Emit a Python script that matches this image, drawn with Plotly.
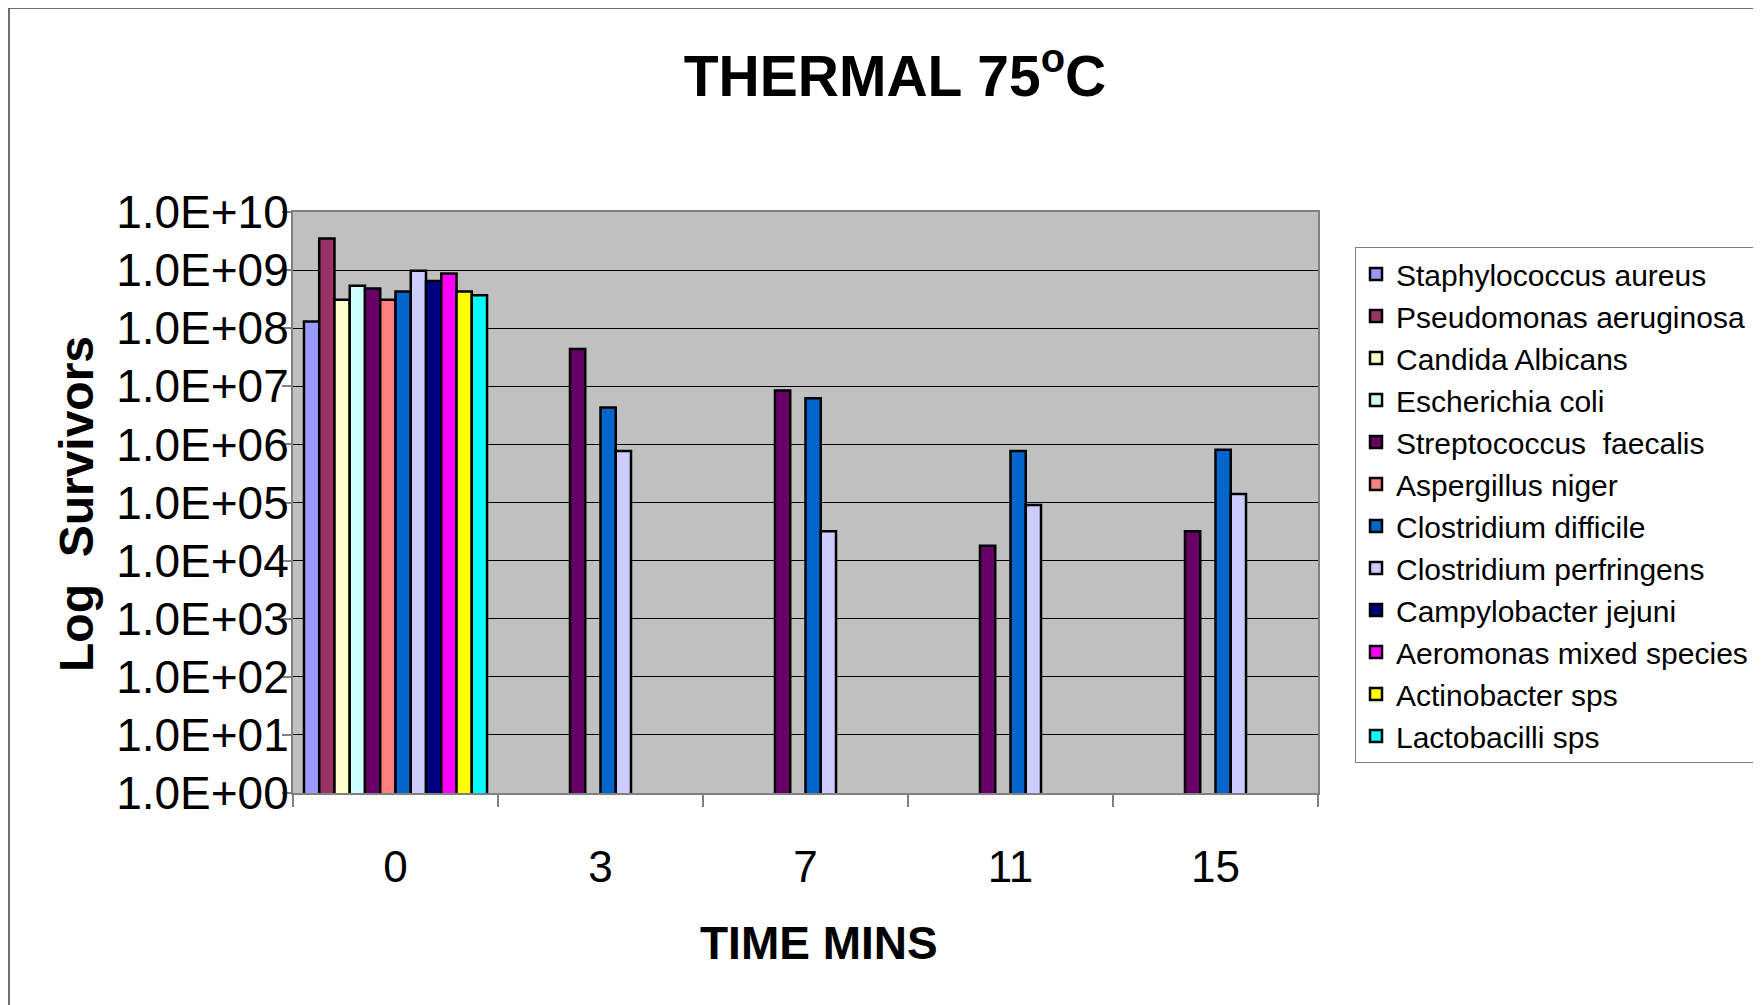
import plotly.graph_objects as go

times = ["0", "3", "7", "11", "15"]
species = [
    "Staphylococcus aureus", "Pseudomonas aeruginosa", "Candida Albicans",
    "Escherichia coli", "Streptococcus  faecalis", "Aspergillus niger",
    "Clostridium difficile", "Clostridium perfringens", "Campylobacter jejuni",
    "Aeromonas mixed species", "Actinobacter sps", "Lactobacilli sps",
]
colors = ["#9999FF", "#993366", "#FFFFCC", "#CCFFFF", "#660066", "#FF8080",
          "#0066CC", "#CCCCFF", "#000080", "#FF00FF", "#FFFF00", "#00FFFF"]

staph = [1.3e8, None, None, None, None]
pseudo = [3.5e9, None, None, None, None]
candida = [3.1e8, None, None, None, None]
ecoli = [5.4e8, None, None, None, None]
strep = [4.8e8, 4.4e7, 8.5e6, 1.8e4, 3.2e4]
asper = [3.1e8, None, None, None, None]
cdiff = [4.3e8, 4.3e6, 6.2e6, 7.7e5, 8.1e5]
cperf = [9.7e8, 7.7e5, 3.2e4, 9.1e4, 1.4e5]
campy = [6.5e8, None, None, None, None]
aero = [8.7e8, None, None, None, None]
actino = [4.3e8, None, None, None, None]
lacto = [3.7e8, None, None, None, None]
series = [staph, pseudo, candida, ecoli, strep, asper, cdiff, cperf, campy, aero, actino, lacto]

ytickvals = [1e0, 1e1, 1e2, 1e3, 1e4, 1e5, 1e6, 1e7, 1e8, 1e9, 1e10]
yticktext = ["1.0E+00", "1.0E+01", "1.0E+02", "1.0E+03", "1.0E+04", "1.0E+05",
             "1.0E+06", "1.0E+07", "1.0E+08", "1.0E+09", "1.0E+10"]

FONT = "Liberation Sans, Arial, sans-serif"

fig = go.Figure()
for name, vals, col in zip(species, series, colors):
    fig.add_trace(go.Bar(
        x=times, y=vals, name=name,
        marker=dict(color=col, line=dict(color="black", width=2.5)),
    ))

W, H = 1761, 1005
OFF = 8  # page body offset
L, R, T, B = 293 - OFF, 1318 - OFF, 212 - OFF, 793 - OFF
pw, ph = R - L, B - T

fig.update_layout(
    width=W, height=H,
    margin=dict(l=L, r=W - R, t=T, b=H - B, pad=0),
    paper_bgcolor="white",
    plot_bgcolor="#C0C0C0",
    barmode="group", bargap=0.107, bargroupgap=0,
    font=dict(family=FONT, color="black"),
    title=dict(text="<b>THERMAL 75<sup>o</sup>C</b>", x=(895 - OFF) / W, y=1 - (76 - OFF) / H,
               xanchor="center", yanchor="middle",
               font=dict(size=57, family=FONT, color="black")),
    showlegend=True,
    legend=dict(x=(1355 - OFF - L) / pw, y=(B - (247 - OFF)) / ph, xanchor="left", yanchor="top",
                bgcolor="white", bordercolor="#808080", borderwidth=1,
                font=dict(size=30, family=FONT, color="black"),
                tracegroupgap=0),
    xaxis=dict(type="category", tickfont=dict(size=44), ticks="outside",
               tickson="boundaries", ticklen=12, tickcolor="#808080", tickwidth=1.5,
               showline=True, linecolor="#808080", linewidth=2, mirror=True,
               ticklabelstandoff=34, showgrid=False),
    yaxis=dict(type="log", range=[0, 10], tickvals=ytickvals, ticktext=yticktext,
               tickfont=dict(size=46), ticks="outside", ticklen=9,
               tickcolor="#808080", tickwidth=1.5, ticklabelstandoff=-16,
               showline=True, linecolor="#808080", linewidth=2, mirror=True,
               showgrid=True, gridcolor="black", gridwidth=1.2, zeroline=False),
    annotations=[
        dict(text="<b>Log  Survivors</b>", xref="paper", yref="paper",
             x=(76 - OFF - L) / pw, y=(B - (504 - OFF)) / ph, textangle=-90, showarrow=False,
             xanchor="center", yanchor="middle", font=dict(size=48, family=FONT)),
        dict(text="<b>TIME MINS</b>", xref="paper", yref="paper",
             x=(819 - OFF - L) / pw, y=(B - (943 - OFF)) / ph, showarrow=False,
             xanchor="center", yanchor="middle", font=dict(size=46, family=FONT)),
    ],
    shapes=[
        dict(type="rect", xref="paper", yref="paper",
             x0=(1 - L) / pw, x1=(1749 - L) / pw, y0=(B - 1010) / ph, y1=(B - 0) / ph,
             line=dict(color="#404040", width=1.5), fillcolor="rgba(0,0,0,0)", layer="below"),
    ],
)

fig.write_html("out.html")
